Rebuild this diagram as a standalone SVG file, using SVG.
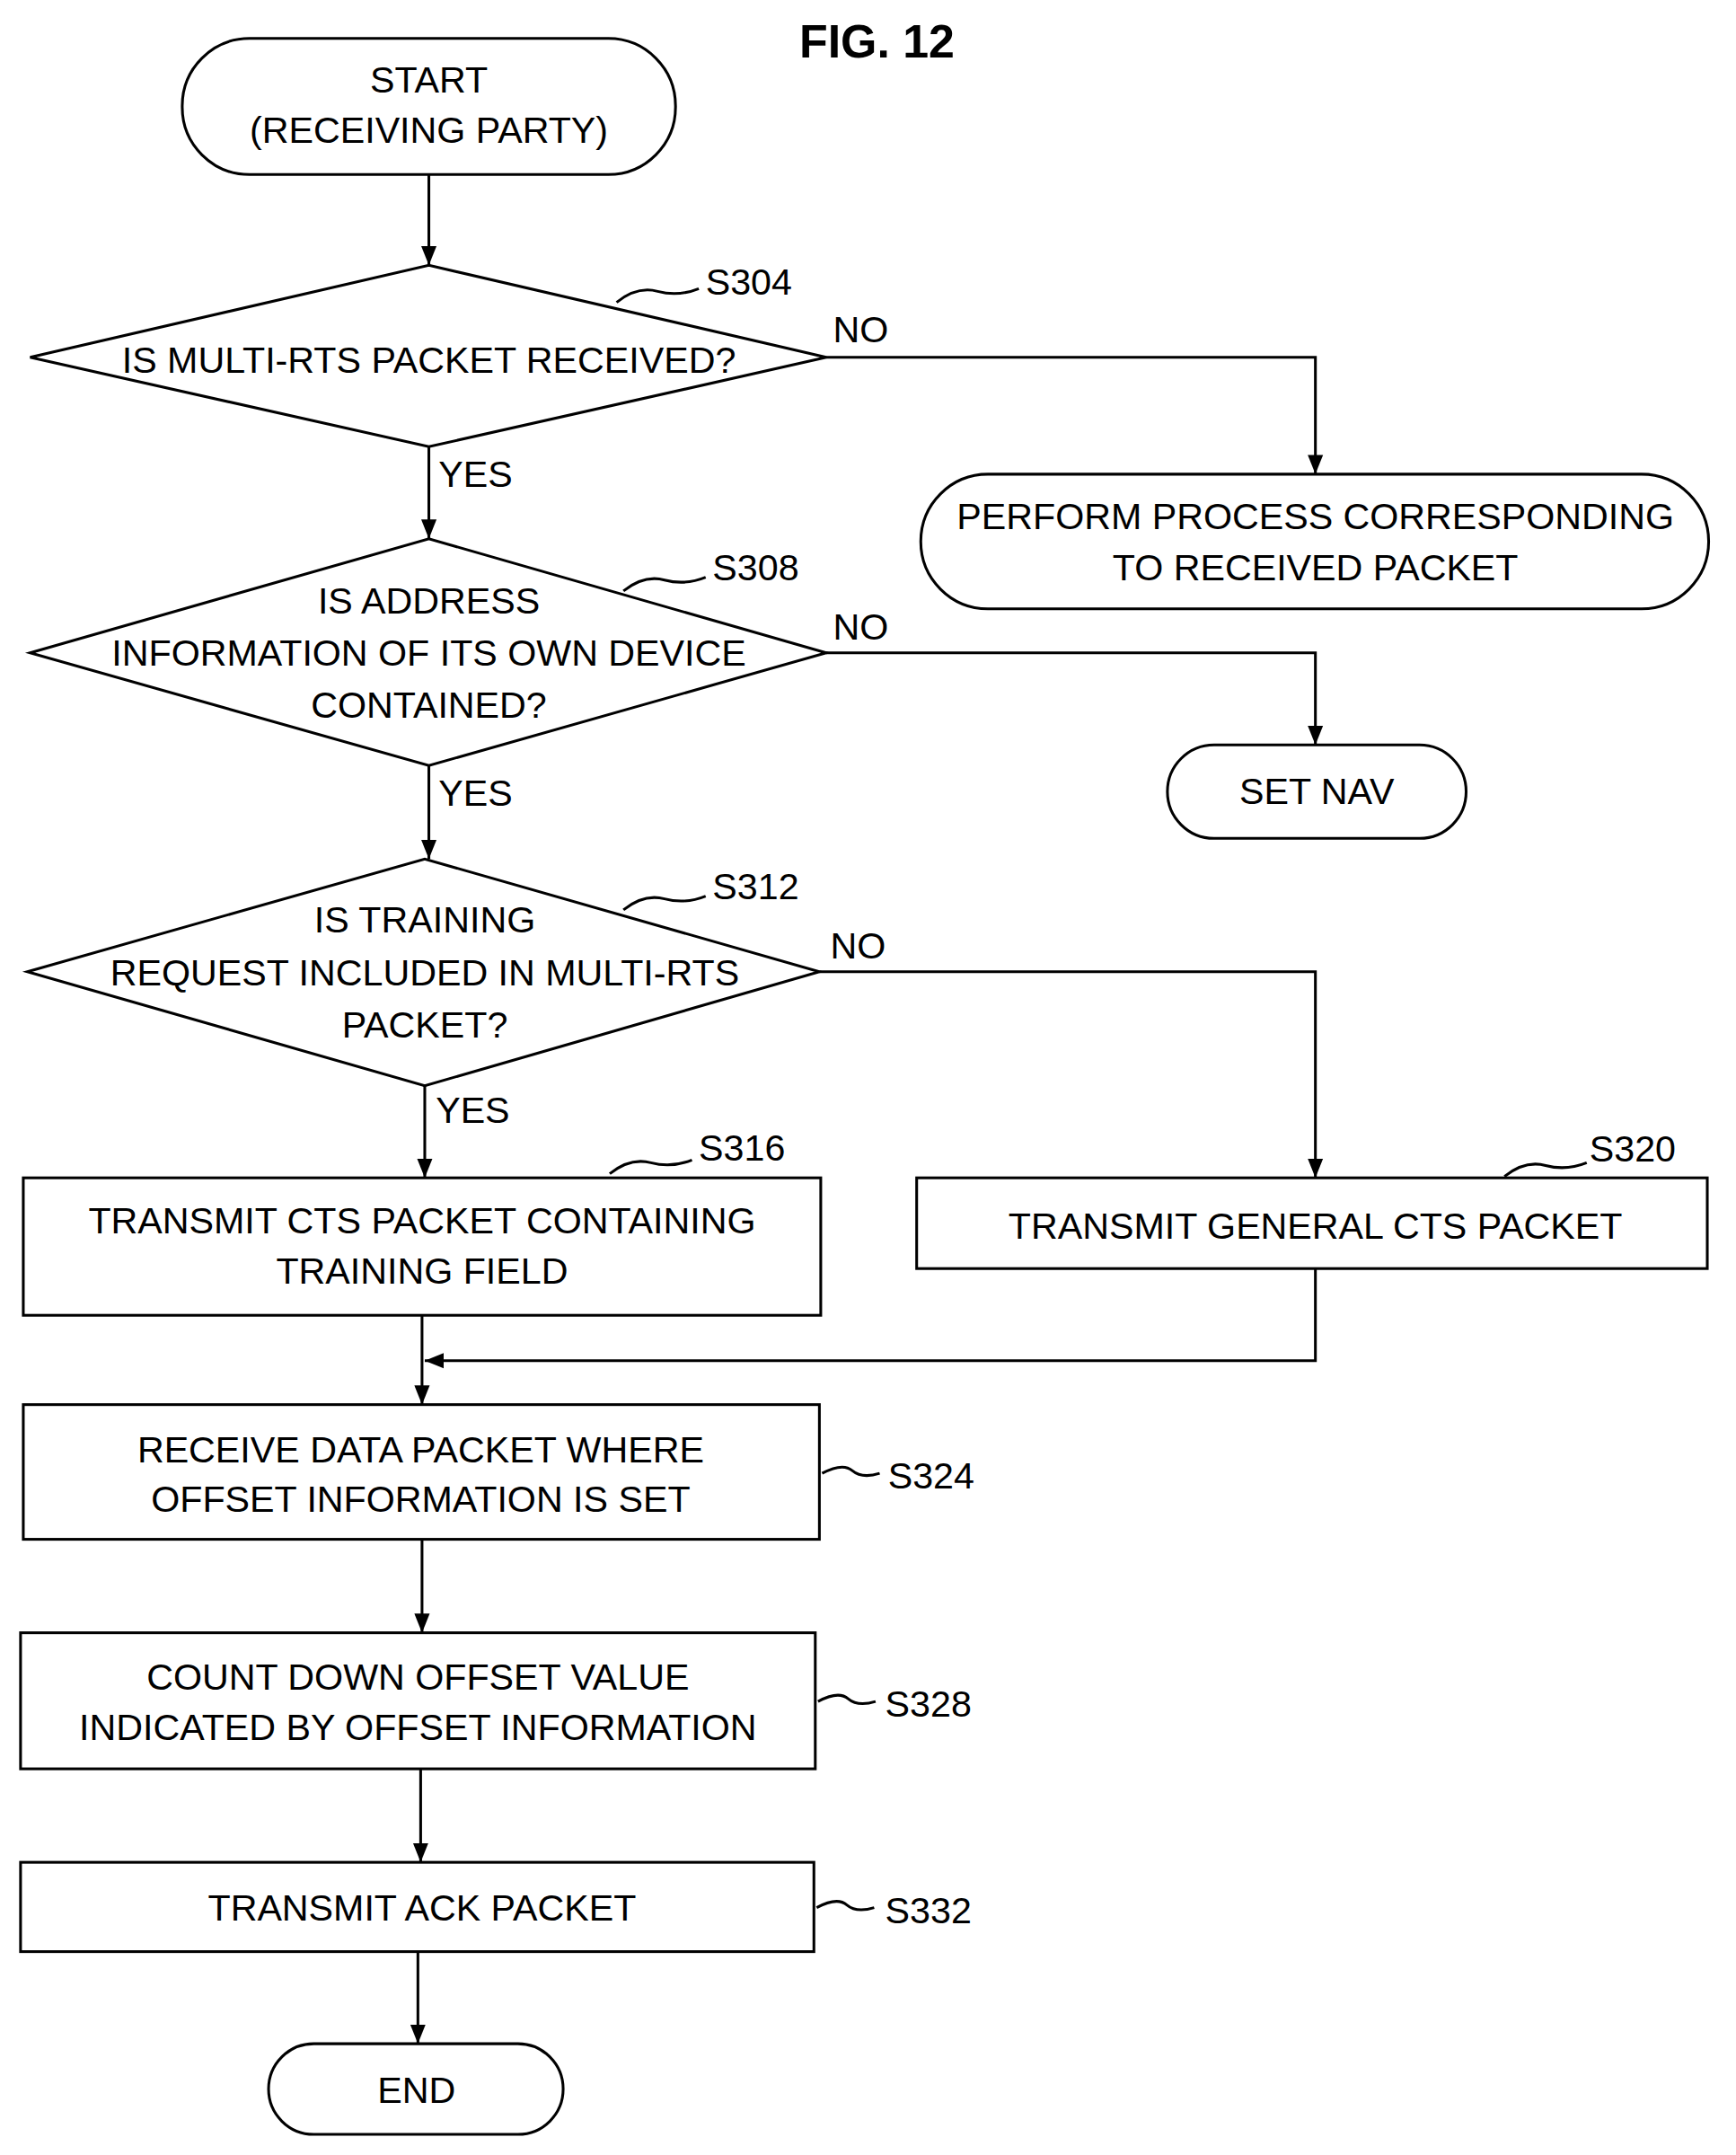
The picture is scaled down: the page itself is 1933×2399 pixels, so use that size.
<svg xmlns="http://www.w3.org/2000/svg" width="1933" height="2399" viewBox="0 0 1933 2399">
<style>
.s{fill:#fff;stroke:#000;stroke-width:2}
.c{fill:none;stroke:#000;stroke-width:2}
text{font-family:"Liberation Sans",Arial,sans-serif;font-size:27px;fill:#000}
.m{text-anchor:middle;dominant-baseline:central}
.l{dominant-baseline:central}
</style>
<defs><marker id="a" viewBox="0 0 10 10" refX="10" refY="5" markerWidth="7" markerHeight="7" orient="auto" markerUnits="userSpaceOnUse"><path d="M0,0L10,5L0,10z" fill="#000" transform="scale(1)"/></marker>
<marker id="b" viewBox="0 0 10 10" refX="10" refY="5" markerWidth="14" markerHeight="14" orient="auto" markerUnits="userSpaceOnUse"><path d="M0,1L10,5L0,9z" fill="#000"/></marker></defs>
<rect width="1933" height="2399" fill="#fff"/>
<g transform="scale(1.5257,1.53)">
<text x="640" y="30" class="m" style="font-weight:bold;font-size:34px">FIG. 12</text>
<g id="connectors">
<path class="c" marker-end="url(#b)" d="M313,127V193"/>
<path class="c" marker-end="url(#b)" d="M603,260H960V345"/>
<path class="c" marker-end="url(#b)" d="M313,325V392"/>
<path class="c" marker-end="url(#b)" d="M603,475H960V542"/>
<path class="c" marker-end="url(#b)" d="M313,557V625"/>
<path class="c" marker-end="url(#b)" d="M598,707H960V857"/>
<path class="c" marker-end="url(#b)" d="M310,790V857"/>
<path class="c" marker-end="url(#b)" d="M308,957V1022"/>
<path class="c" marker-end="url(#b)" d="M960,923V990H310"/>
<path class="c" marker-end="url(#b)" d="M308,1120V1188"/>
<path class="c" marker-end="url(#b)" d="M307,1287V1355"/>
<path class="c" marker-end="url(#b)" d="M305,1420V1487"/>
<text x="608" y="240" class="l">NO</text>
<text x="608" y="456" class="l">NO</text>
<text x="606" y="688" class="l">NO</text>
<text x="320" y="345" class="l">YES</text>
<text x="320" y="577" class="l">YES</text>
<text x="318" y="808" class="l">YES</text>
</g>
<g id="start"><rect class="s" x="133" y="28" width="360" height="99" rx="49"/><text x="313" y="58" class="m">START</text><text x="313" y="95" class="m">(RECEIVING PARTY)</text></g>
<g id="s304"><path class="s" d="M22,260L313,193L603,260L313,325z"/><text x="313" y="262" class="m">IS MULTI-RTS PACKET RECEIVED?</text><path class="c" d="M450,220q15,-12 30,-8t30,-2"/><text x="515" y="205" class="l">S304</text></g>
<g id="proc"><rect class="s" x="672" y="345" width="575" height="98" rx="49"/><text x="960" y="376" class="m">PERFORM PROCESS CORRESPONDING</text><text x="960" y="413" class="m">TO RECEIVED PACKET</text></g>
<g id="s308"><path class="s" d="M22,475L313,392L603,475L313,557z"/><text x="313" y="437" class="m">IS ADDRESS</text><text x="313" y="475" class="m">INFORMATION OF ITS OWN DEVICE</text><text x="313" y="513" class="m">CONTAINED?</text><path class="c" d="M455,430q15,-12 30,-8t30,-2"/><text x="520" y="413" class="l">S308</text></g>
<g id="setnav"><rect class="s" x="852" y="542" width="218" height="68" rx="34"/><text x="961" y="576" class="m">SET NAV</text></g>
<g id="s312"><path class="s" d="M20,707L310,625L598,707L310,790z"/><text x="310" y="669" class="m">IS TRAINING</text><text x="310" y="708" class="m">REQUEST INCLUDED IN MULTI-RTS</text><text x="310" y="746" class="m">PACKET?</text><path class="c" d="M455,662q15,-12 30,-8t30,-2"/><text x="520" y="645" class="l">S312</text></g>
<g id="s316"><rect class="s" x="17" y="857" width="582" height="100"/><text x="308" y="888" class="m">TRANSMIT CTS PACKET CONTAINING</text><text x="308" y="925" class="m">TRAINING FIELD</text><path class="c" d="M445,854q15,-12 30,-8t30,-2"/><text x="510" y="835" class="l">S316</text></g>
<g id="s320"><rect class="s" x="669" y="857" width="577" height="66"/><text x="960" y="892" class="m">TRANSMIT GENERAL CTS PACKET</text><path class="c" d="M1098,856q15,-12 30,-8t30,-2"/><text x="1160" y="836" class="l">S320</text></g>
<g id="s324"><rect class="s" x="17" y="1022" width="581" height="98"/><text x="307" y="1055" class="m">RECEIVE DATA PACKET WHERE</text><text x="307" y="1091" class="m">OFFSET INFORMATION IS SET</text><path class="c" d="M600,1072q15,-8 22,-2t20,2"/><text x="648" y="1074" class="l">S324</text></g>
<g id="s328"><rect class="s" x="15" y="1188" width="580" height="99"/><text x="305" y="1220" class="m">COUNT DOWN OFFSET VALUE</text><text x="305" y="1257" class="m">INDICATED BY OFFSET INFORMATION</text><path class="c" d="M597,1238q15,-8 22,-2t20,2"/><text x="646" y="1240" class="l">S328</text></g>
<g id="s332"><rect class="s" x="15" y="1355" width="579" height="65"/><text x="308" y="1388" class="m">TRANSMIT ACK PACKET</text><path class="c" d="M596,1388q15,-8 22,-2t20,2"/><text x="646" y="1390" class="l">S332</text></g>
<g id="end"><rect class="s" x="196" y="1487" width="215" height="66" rx="33"/><text x="304" y="1521" class="m">END</text></g>
</g>
</svg>
